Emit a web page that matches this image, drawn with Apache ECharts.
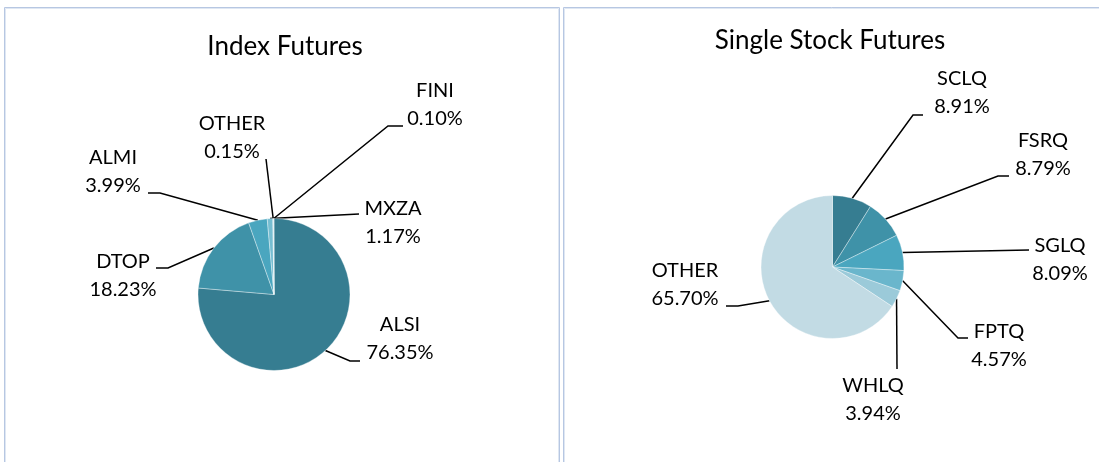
<!DOCTYPE html>
<html>
<head>
<meta charset="utf-8">
<script src="https://cdn.jsdelivr.net/npm/echarts@6/dist/echarts.min.js"></script>
<style>
html,body{margin:0;padding:0;background:#fff;}
#chart{width:1099px;height:462px;}
</style>
</head>
<body>
<div id="chart"></div>
<script>
// ---- Data ----
const indexCategories = ['ALSI', 'DTOP', 'ALMI', 'MXZA', 'OTHER', 'FINI'];
const indexValues = [76.35, 18.23, 3.99, 1.17, 0.15, 0.10];
const stockCategories = ['SCLQ', 'FSRQ', 'SGLQ', 'FPTQ', 'WHLQ', 'OTHER'];
const stockValues = [8.91, 8.79, 8.09, 4.57, 3.94, 65.70];
const titles = ['Index Futures', 'Single Stock Futures'];

// ---- Styling / layout ----
const indexColors = ['#367d91', '#3f92a8', '#4aa6bf', '#76bdd1', '#9fcfdd', '#c2dce5'];
const stockColors = ['#367d91', '#3f92a8', '#4aa6bf', '#6ab6cc', '#9bcad9', '#c2dbe4'];
const FONT = 'Lato, "Open Sans", sans-serif';

// label placement: text centre (tx, ty) and leader-line bend/end points
const labelPlacement = [
  { // Index Futures
    ALSI:  { tx: 400, ty: 339, pts: [[350, 361], [360, 361]] },
    DTOP:  { tx: 123, ty: 276, pts: [[168, 268], [156, 268]] },
    ALMI:  { tx: 113, ty: 172, pts: [[160, 193], [148, 193]] },
    MXZA:  { tx: 393, ty: 223, pts: [[359, 214]] },
    OTHER: { tx: 232, ty: 138, pts: [[266, 159]] },
    FINI:  { tx: 435, ty: 105, pts: [[388, 126], [403, 126]] }
  },
  { // Single Stock Futures
    SCLQ:  { tx: 962, ty: 93,  pts: [[913, 115], [923, 115]] },
    FSRQ:  { tx: 1043, ty: 155, pts: [[998, 176], [1009, 176]] },
    SGLQ:  { tx: 1060, ty: 260, pts: [[1029, 250]] },
    FPTQ:  { tx: 999, ty: 346, pts: [[958, 338], [968, 338]] },
    WHLQ:  { tx: 873, ty: 400, pts: [[897, 369]] },
    OTHER: { tx: 685, ty: 285, pts: [[738, 306], [726, 306]] }
  }
];

function makeData(cats, vals, colors) {
  return cats.map((c, i) => ({ name: c, value: vals[i], itemStyle: { color: colors[i] } }));
}

const chart = echarts.init(document.getElementById('chart'), null, { renderer: 'canvas' });

function pieSeries(cats, vals, colors, center, radius) {
  return {
    type: 'pie',
    center: center,
    radius: radius,
    startAngle: 90,
    clockwise: true,
    animation: false,
    avoidLabelOverlap: false,
    data: makeData(cats, vals, colors),
    itemStyle: { borderColor: 'rgba(255,255,255,0.6)', borderWidth: 0.6 },
    label: {
      show: true,
      position: 'outside',
      formatter: p => p.name + '\n' + p.value.toFixed(2) + '%',
      fontFamily: FONT,
      fontSize: 20,
      lineHeight: 28,
      color: '#000',
      align: 'center'
    },
    labelLine: {
      show: true,
      length: 10,
      length2: 10,
      lineStyle: { color: '#000', width: 1.5 }
    },
    labelLayout: function (params) {
      const cfg = labelPlacement[params.seriesIndex][params.text.split('\n')[0]];
      if (!cfg) return {};
      const start = params.labelLinePoints ? params.labelLinePoints[0] : null;
      const pts = start ? [start].concat(cfg.pts) : cfg.pts;
      while (pts.length < 3) pts.push(pts[pts.length - 1]);
      return {
        x: cfg.tx,
        y: cfg.ty,
        align: 'center',
        verticalAlign: 'middle',
        labelLinePoints: pts
      };
    },
    emphasis: { disabled: true }
  };
}

const option = {
  backgroundColor: '#ffffff',
  animation: false,
  title: [
    { text: titles[0], left: 285, top: 34, textAlign: 'center', padding: 0,
      textStyle: { fontFamily: FONT, fontSize: 26, fontWeight: 'normal', color: '#000' } },
    { text: titles[1], left: 830, top: 28, textAlign: 'center', padding: 0,
      textStyle: { fontFamily: FONT, fontSize: 26, fontWeight: 'normal', color: '#000' } }
  ],
  graphic: [
    { type: 'rect', shape: { x: 4.5, y: 7.5, width: 555, height: 470 },
      style: { fill: null, stroke: '#b7c7e2', lineWidth: 1 }, silent: true },
    { type: 'rect', shape: { x: 5.5, y: 8.5, width: 553, height: 470 },
      style: { fill: null, stroke: '#dfe7f3', lineWidth: 1 }, silent: true },
    { type: 'rect', shape: { x: 563.5, y: 7.5, width: 560, height: 470 },
      style: { fill: null, stroke: '#b7c7e2', lineWidth: 1 }, silent: true },
    { type: 'rect', shape: { x: 564.5, y: 8.5, width: 560, height: 470 },
      style: { fill: null, stroke: '#dfe7f3', lineWidth: 1 }, silent: true }
  ],
  series: [
    pieSeries(indexCategories, indexValues, indexColors, [274, 294.5], 76),
    pieSeries(stockCategories, stockValues, stockColors, [832.5, 267], 71.5)
  ]
};

chart.setOption(option);
</script>
</body>
</html>
